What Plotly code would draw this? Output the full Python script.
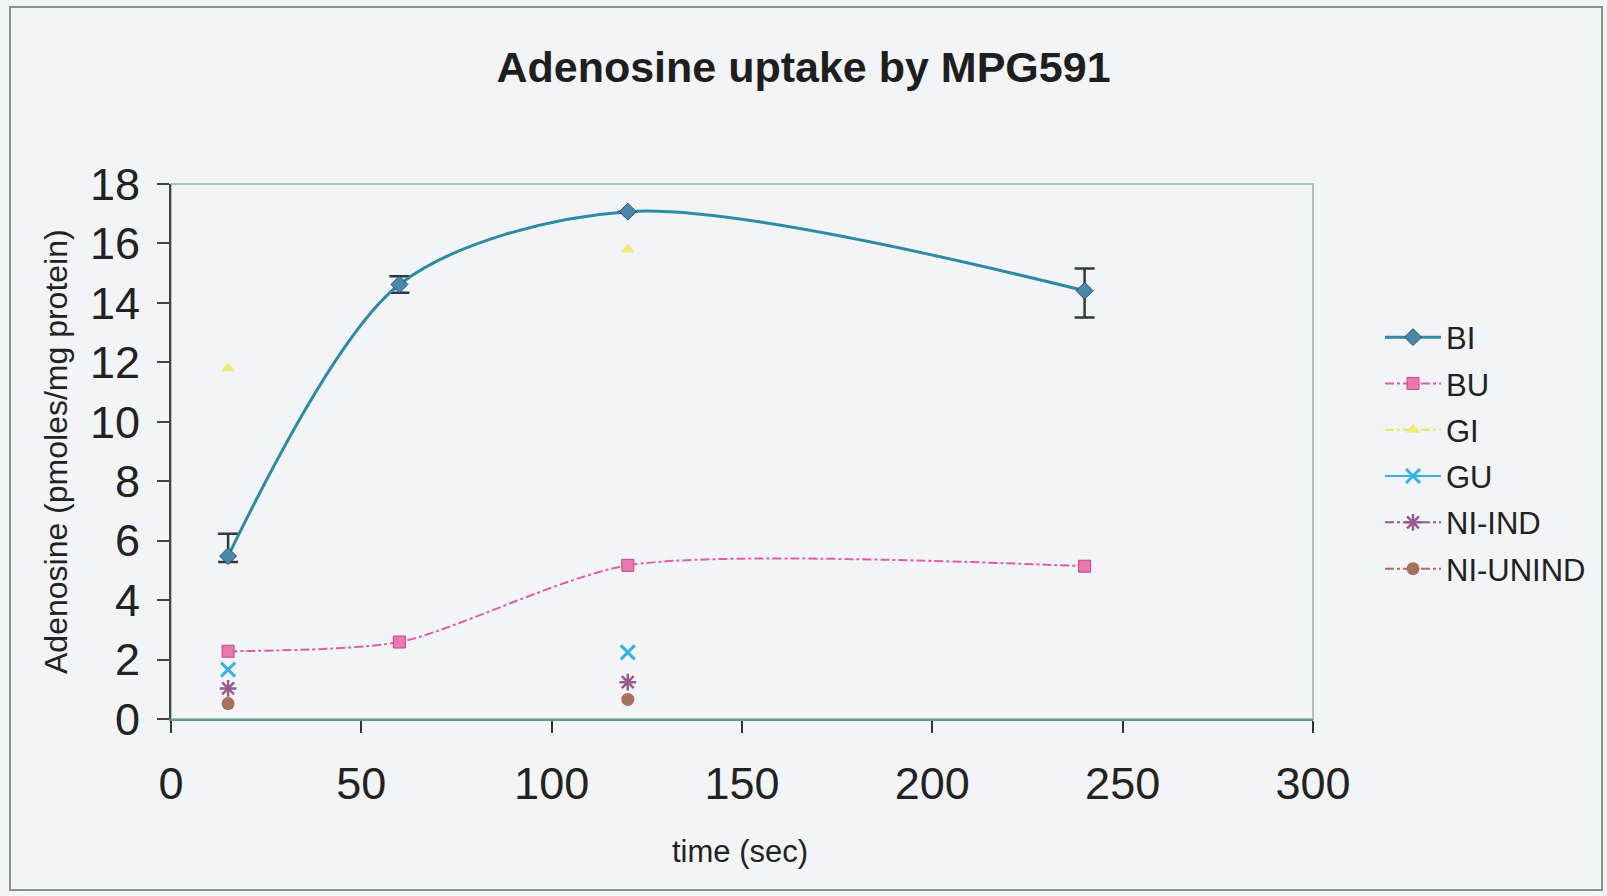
import plotly.graph_objects as go

# ---- data ----
time_sec = [15, 60, 120, 240]
BI = [5.48, 14.62, 17.07, 14.41]
BI_err_plus = [0.75, 0.28, 0.0, 0.75]
BI_err_minus = [0.2, 0.28, 0.0, 0.9]
BU = [2.28, 2.59, 5.17, 5.14]
GI = [11.8, None, 15.8, None]
GU = [1.66, None, 2.24, None]
NI_IND = [1.03, None, 1.24, None]
NI_UNIND = [0.52, None, 0.66, None]

x_ticks = [0, 50, 100, 150, 200, 250, 300]
y_ticks = [0, 2, 4, 6, 8, 10, 12, 14, 16, 18]

# ---- layout geometry (pixels) ----
W, H = 1607, 896
PL, PR, PT, PB = 171, 1313, 184, 719
pw, ph = PR - PL, PB - PT

def px_x(p):
    return (p - PL) / pw

def px_y(p):
    return (PB - p) / ph

bg = "#f3f4f7"
fig = go.Figure()

fig.add_trace(go.Scatter(
    x=time_sec, y=BI, name="BI", legendgroup="g1", mode="lines+markers",
    line=dict(color="#2f8aa6", width=3, shape="spline", smoothing=0.85),
    marker=dict(symbol="diamond", size=13, color="#4a88aa", line=dict(color="#24506a", width=1)),
    error_y=dict(type="data", symmetric=False, array=BI_err_plus, arrayminus=BI_err_minus,
                 color="#2c3a3a", thickness=2.5, width=10),
))
fig.add_trace(go.Scatter(
    x=time_sec, y=BU, name="BU", legendgroup="g2", mode="lines+markers",
    line=dict(color="#e0609e", width=2, dash="dashdot", shape="spline", smoothing=0.7),
    marker=dict(symbol="square", size=12, color="#e878b0", line=dict(color="#d04088", width=1)),
))
fig.add_trace(go.Scatter(
    x=time_sec, y=GI, name="GI", legendgroup="g3", mode="lines+markers", connectgaps=False,
    line=dict(color="#e6e66a", width=2, dash="dashdot"),
    marker=dict(symbol="triangle-up", size=12, color="#f0ea70"),
))
fig.add_trace(go.Scatter(
    x=time_sec, y=GU, name="GU", legendgroup="g4", mode="lines+markers", connectgaps=False,
    line=dict(color="#35b2e4", width=2),
    marker=dict(symbol="x-thin-open", size=14, line=dict(color="#35b2e4", width=3)),
))
fig.add_trace(go.Scatter(
    x=time_sec, y=NI_IND, name="NI-IND", legendgroup="g5", mode="lines+markers", connectgaps=False,
    line=dict(color="#9a5a8e", width=2, dash="dashdot"),
    marker=dict(symbol="asterisk-open", size=14, line=dict(color="#9a5a8e", width=2.5)),
))
fig.add_trace(go.Scatter(
    x=time_sec, y=NI_UNIND, name="NI-UNIND", legendgroup="g6", mode="lines+markers", connectgaps=False,
    line=dict(color="#a87060", width=2, dash="dashdot"),
    marker=dict(symbol="circle", size=13, color="#a8705e"),
))

axis_font = dict(family="Arial, Liberation Sans", size=45, color="#222222")

fig.update_layout(
    width=W, height=H,
    margin=dict(l=PL, r=W - PR, t=PT, b=H - PB),
    paper_bgcolor=bg, plot_bgcolor=bg,
    title=dict(text="<b>Adenosine uptake by MPG591</b>", xref="container", x=0.5,
               xanchor="center", y=1 - 67 / H, yanchor="middle",
               font=dict(family="Arial, Liberation Sans", size=43, color="#1e1e1e")),
    showlegend=True,
    legend=dict(x=px_x(1380), xanchor="left", y=px_y(453), yanchor="middle",
                bgcolor="rgba(0,0,0,0)", font=dict(family="Arial, Liberation Sans", size=31, color="#222222"),
                itemwidth=56, tracegroupgap=3),
    xaxis=dict(range=[0, 300], tickvals=x_ticks, ticktext=[str(v) for v in x_ticks],
               showgrid=False, zeroline=False, showline=True, linecolor="#5f9a86", linewidth=2,
               ticks="outside", ticklen=12, tickcolor="#333333", tickwidth=2,
               tickfont=axis_font, ticklabelstandoff=12),
    yaxis=dict(range=[0, 18], tickvals=y_ticks, ticktext=[str(v) for v in y_ticks],
               showgrid=False, zeroline=False, showline=True, linecolor="#444444", linewidth=2,
               ticks="outside", ticklen=12, tickcolor="#444444", tickwidth=2,
               tickfont=axis_font, ticklabelstandoff=8),
)

# plot area border (top/right) and outer chart border
fig.add_shape(type="rect", xref="paper", yref="paper", x0=0, y0=0, x1=1, y1=1,
              line=dict(color="#a8c4c4", width=2), layer="below")
fig.add_shape(type="rect", xref="paper", yref="paper",
              x0=px_x(10), x1=px_x(1602), y0=px_y(890), y1=px_y(7),
              line=dict(color="#7a9a7a", width=2), layer="below")

# axis titles
fig.add_annotation(text="Adenosine (pmoles/mg protein)", xref="paper", yref="paper",
                   x=px_x(56), y=px_y(452), textangle=-90, showarrow=False,
                   xanchor="center", yanchor="middle",
                   font=dict(family="Arial, Liberation Sans", size=32, color="#222222"))
fig.add_annotation(text="time (sec)", xref="paper", yref="paper",
                   x=px_x(740), y=px_y(851), showarrow=False,
                   xanchor="center", yanchor="middle",
                   font=dict(family="Arial, Liberation Sans", size=31, color="#222222"))

fig.write_html("out.html")
